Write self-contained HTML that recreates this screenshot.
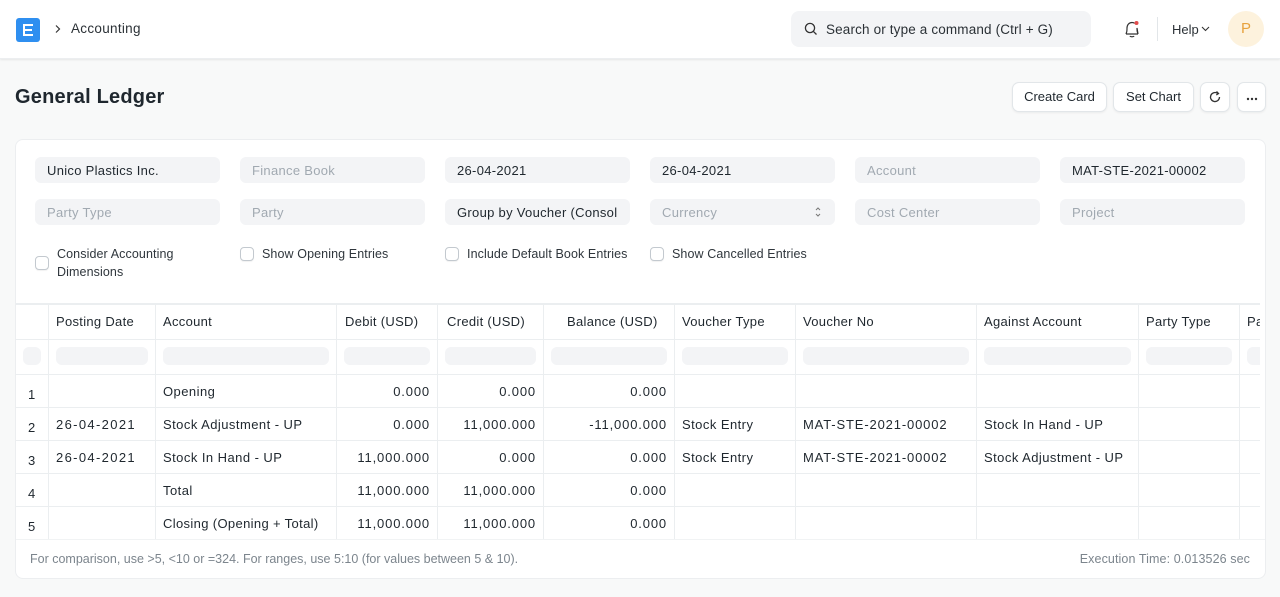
<!DOCTYPE html>
<html><head><meta charset="utf-8">
<style>
*{box-sizing:border-box;margin:0;padding:0}
body{width:1280px;height:597px;background:#f8f9f9;font-family:"Liberation Sans",sans-serif;color:#1f272e;position:relative;overflow:hidden;font-size:13px}
.abs{position:absolute}
.nav{left:0;top:0;width:1280px;height:59px;background:#fff;box-shadow:0 1px 2px rgba(0,0,0,0.08);border-bottom:1px solid #eceef0}
.logo{left:16px;top:18px;width:24px;height:24px;background:#2f8ff0;border-radius:3px}
.search{left:791px;top:11px;width:300px;height:36px;background:#f3f4f6;border-radius:8px}
.btn{top:82px;height:30px;background:#fff;border:1px solid #e2e6e9;border-radius:7px;box-shadow:0 1px 2px rgba(0,0,0,0.06);font-size:13px;line-height:28px;text-align:center;color:#1f272e}
.card{left:15px;top:139px;width:1251px;height:440px;background:#fff;border:1px solid #eceef0;border-radius:8px;overflow:hidden}
.f{width:185px;height:26px;background:#f3f4f6;border-radius:6px;font-size:13px;line-height:28px;padding-left:12px;color:#1f272e;white-space:nowrap;overflow:hidden;letter-spacing:0.3px}
.ph{color:#a1a9b1}
.cb{width:14px;height:14px;border:1px solid #c3c9cf;border-radius:4px;background:#fff;box-shadow:0 1px 1px rgba(0,0,0,0.06)}
.cl{font-size:12.5px;color:#2f363c;line-height:18px;letter-spacing:0.1px}
.hl{background:#ebeef0}
.t{font-size:13px;line-height:16px;white-space:nowrap;margin-top:1px;letter-spacing:0.45px}
.h{letter-spacing:0.3px}
.n{letter-spacing:0.85px}
.d{letter-spacing:1.35px}
.m{letter-spacing:0.85px}
.r{text-align:right}
.fl{height:18px;background:#f3f4f6;border-radius:6px}
</style></head><body>
<div class="abs nav"></div>
<div class="abs logo"><div class="abs" style="left:7px;top:6px;width:10px;height:2px;background:#fff"></div><div class="abs" style="left:7px;top:11px;width:9px;height:2px;background:#fff"></div><div class="abs" style="left:7px;top:16px;width:10px;height:2px;background:#fff"></div><div class="abs" style="left:7px;top:6px;width:2px;height:5px;background:#fff"></div><div class="abs" style="left:7px;top:13px;width:2px;height:5px;background:#fff"></div></div>
<svg class="abs" style="left:54px;top:24px" width="8" height="10"><path d="M2 1.5 L5.5 5 L2 8.5" fill="none" stroke="#333" stroke-width="1.2"/></svg>
<div class="abs t h" style="left:71px;top:20px;font-size:13.5px;color:#2b3136">Accounting</div>
<div class="abs search"></div>
<svg class="abs" style="left:804px;top:22px" width="14" height="14"><circle cx="6" cy="6" r="4.6" fill="none" stroke="#333" stroke-width="1.3"/><path d="M9.4 9.4 L12.5 12.5" stroke="#333" stroke-width="1.3"/></svg>
<div class="abs t" style="left:826px;top:21px;font-size:13.5px;color:#2b3136;letter-spacing:0.15px">Search or type a command (Ctrl + G)</div>
<svg class="abs" style="left:1122px;top:19px" width="20" height="20"><path d="M4 15 L4.5 13.5 C5 12.5 5 11 5 9 C5 6 7 3.5 10 3.5 C11 3.5 12 3.8 12.5 4.3 M15 9 C15 11 15 12.5 15.5 13.5 L16 15 Z M4 15 L16 15 M8 17 C8.5 18 11.5 18 12 17" fill="none" stroke="#333" stroke-width="1.2"/><circle cx="14.5" cy="4" r="2" fill="#e24c4c"/></svg>
<div class="abs" style="left:1157px;top:17px;width:1px;height:24px;background:#e2e6e9"></div>
<div class="abs t" style="left:1172px;top:21px;font-size:13px;color:#2b3136;letter-spacing:0">Help</div>
<svg class="abs" style="left:1201px;top:26px" width="9" height="6"><path d="M1 1 L4.5 4.5 L8 1" fill="none" stroke="#333" stroke-width="1.1"/></svg>
<div class="abs" style="left:1228px;top:11px;width:36px;height:36px;border-radius:50%;background:#fdf2dd;color:#e7a23d;font-size:15px;line-height:36px;text-align:center">P</div>

<div class="abs" style="left:15px;top:85px;font-size:20px;font-weight:bold;color:#1f272e;line-height:24px;letter-spacing:0.2px">General Ledger</div>
<div class="abs btn" style="left:1012px;width:95px">Create Card</div>
<div class="abs btn" style="left:1113px;width:81px">Set Chart</div>
<div class="abs btn" style="left:1200px;width:30px"><svg style="margin-top:7px" width="14" height="14"><path d="M11.5 7 A4.5 4.5 0 1 1 9.5 3.3" fill="none" stroke="#333" stroke-width="1.3"/><path d="M8.5 1.5 L10.5 3.5 L8.3 5" fill="none" stroke="#333" stroke-width="1.3"/></svg></div>
<div class="abs btn" style="left:1237px;width:29px"><svg style="margin-top:12px" width="12" height="4"><circle cx="2" cy="2" r="1.2" fill="#333"/><circle cx="6" cy="2" r="1.2" fill="#333"/><circle cx="10" cy="2" r="1.2" fill="#333"/></svg></div>

<div class="abs card"></div>
<div class="abs f" style="left:35px;top:157px">Unico Plastics Inc.</div>
<div class="abs f ph" style="left:240px;top:157px">Finance Book</div>
<div class="abs f" style="left:445px;top:157px">26-04-2021</div>
<div class="abs f" style="left:650px;top:157px">26-04-2021</div>
<div class="abs f ph" style="left:855px;top:157px">Account</div>
<div class="abs f" style="left:1060px;top:157px">MAT-STE-2021-00002</div>
<div class="abs f ph" style="left:35px;top:199px">Party Type</div>
<div class="abs f ph" style="left:240px;top:199px">Party</div>
<div class="abs f" style="left:445px;top:199px">Group by Voucher (Consol</div>
<div class="abs f ph" style="left:650px;top:199px">Currency</div>
<svg class="abs" style="left:814px;top:205px" width="8" height="14"><path d="M2 5 L4 3 L6 5 M2 9 L4 11 L6 9" fill="none" stroke="#777" stroke-width="1"/></svg>
<div class="abs f ph" style="left:855px;top:199px">Cost Center</div>
<div class="abs f ph" style="left:1060px;top:199px">Project</div>

<div class="abs cb" style="left:35px;top:256px"></div>
<div class="abs cl" style="left:57px;top:245px">Consider Accounting<br>Dimensions</div>
<div class="abs cb" style="left:240px;top:247px"></div>
<div class="abs cl" style="left:262px;top:245px">Show Opening Entries</div>
<div class="abs cb" style="left:445px;top:247px"></div>
<div class="abs cl" style="left:467px;top:245px">Include Default Book Entries</div>
<div class="abs cb" style="left:650px;top:247px"></div>
<div class="abs cl" style="left:672px;top:245px">Show Cancelled Entries</div>

<!-- table lines -->
<div class="abs hl" style="left:16px;top:303px;width:1244px;height:2px"></div>
<div class="abs hl" style="left:16px;top:339px;width:1244px;height:1px"></div>
<div class="abs hl" style="left:16px;top:374px;width:1244px;height:1px"></div>
<div class="abs hl" style="left:16px;top:407px;width:1244px;height:1px"></div>
<div class="abs hl" style="left:16px;top:440px;width:1244px;height:1px"></div>
<div class="abs hl" style="left:16px;top:473px;width:1244px;height:1px"></div>
<div class="abs hl" style="left:16px;top:506px;width:1244px;height:1px"></div>
<div class="abs hl" style="left:16px;top:539px;width:1249px;height:1px;background:#f1f3f4"></div>
<div class="abs hl" style="left:48px;top:305px;width:1px;height:234px"></div>
<div class="abs hl" style="left:155px;top:305px;width:1px;height:234px"></div>
<div class="abs hl" style="left:336px;top:305px;width:1px;height:234px"></div>
<div class="abs hl" style="left:437px;top:305px;width:1px;height:234px"></div>
<div class="abs hl" style="left:543px;top:305px;width:1px;height:234px"></div>
<div class="abs hl" style="left:674px;top:305px;width:1px;height:234px"></div>
<div class="abs hl" style="left:795px;top:305px;width:1px;height:234px"></div>
<div class="abs hl" style="left:976px;top:305px;width:1px;height:234px"></div>
<div class="abs hl" style="left:1138px;top:305px;width:1px;height:234px"></div>
<div class="abs hl" style="left:1239px;top:305px;width:1px;height:234px"></div>

<!-- header -->
<div class="abs t h" style="left:56px;top:313px">Posting Date</div>
<div class="abs t h" style="left:163px;top:313px">Account</div>
<div class="abs t h" style="left:345px;top:313px">Debit (USD)</div>
<div class="abs t h" style="left:447px;top:313px">Credit (USD)</div>
<div class="abs t h" style="left:567px;top:313px">Balance (USD)</div>
<div class="abs t h" style="left:682px;top:313px">Voucher Type</div>
<div class="abs t h" style="left:803px;top:313px">Voucher No</div>
<div class="abs t h" style="left:984px;top:313px">Against Account</div>
<div class="abs t h" style="left:1146px;top:313px">Party Type</div>
<div class="abs t h" style="left:1247px;top:313px;width:13px;overflow:hidden">Party</div>

<!-- filter row -->
<div class="abs fl" style="left:23px;top:347px;width:18px"></div>
<div class="abs fl" style="left:56px;top:347px;width:92px"></div>
<div class="abs fl" style="left:163px;top:347px;width:166px"></div>
<div class="abs fl" style="left:344px;top:347px;width:86px"></div>
<div class="abs fl" style="left:445px;top:347px;width:91px"></div>
<div class="abs fl" style="left:551px;top:347px;width:116px"></div>
<div class="abs fl" style="left:682px;top:347px;width:106px"></div>
<div class="abs fl" style="left:803px;top:347px;width:166px"></div>
<div class="abs fl" style="left:984px;top:347px;width:147px"></div>
<div class="abs fl" style="left:1146px;top:347px;width:86px"></div>
<div class="abs fl" style="left:1247px;top:347px;width:13px;border-radius:6px 0 0 6px"></div>

<!-- rows -->
<div class="abs t" style="left:28px;top:386px">1</div>
<div class="abs t" style="left:163px;top:383px">Opening</div>
<div class="abs t r n" style="left:337px;top:383px;width:93px">0.000</div>
<div class="abs t r n" style="left:438px;top:383px;width:98px">0.000</div>
<div class="abs t r n" style="left:544px;top:383px;width:123px">0.000</div>

<div class="abs t" style="left:28px;top:419px">2</div>
<div class="abs t d" style="left:56px;top:416px">26-04-2021</div>
<div class="abs t" style="left:163px;top:416px">Stock Adjustment - UP</div>
<div class="abs t r n" style="left:337px;top:416px;width:93px">0.000</div>
<div class="abs t r n" style="left:438px;top:416px;width:98px">11,000.000</div>
<div class="abs t r n" style="left:544px;top:416px;width:123px">-11,000.000</div>
<div class="abs t" style="left:682px;top:416px">Stock Entry</div>
<div class="abs t m" style="left:803px;top:416px">MAT-STE-2021-00002</div>
<div class="abs t" style="left:984px;top:416px">Stock In Hand - UP</div>

<div class="abs t" style="left:28px;top:452px">3</div>
<div class="abs t d" style="left:56px;top:449px">26-04-2021</div>
<div class="abs t" style="left:163px;top:449px">Stock In Hand - UP</div>
<div class="abs t r n" style="left:337px;top:449px;width:93px">11,000.000</div>
<div class="abs t r n" style="left:438px;top:449px;width:98px">0.000</div>
<div class="abs t r n" style="left:544px;top:449px;width:123px">0.000</div>
<div class="abs t" style="left:682px;top:449px">Stock Entry</div>
<div class="abs t m" style="left:803px;top:449px">MAT-STE-2021-00002</div>
<div class="abs t" style="left:984px;top:449px">Stock Adjustment - UP</div>

<div class="abs t" style="left:28px;top:485px">4</div>
<div class="abs t" style="left:163px;top:482px">Total</div>
<div class="abs t r n" style="left:337px;top:482px;width:93px">11,000.000</div>
<div class="abs t r n" style="left:438px;top:482px;width:98px">11,000.000</div>
<div class="abs t r n" style="left:544px;top:482px;width:123px">0.000</div>

<div class="abs t" style="left:28px;top:518px">5</div>
<div class="abs t" style="left:163px;top:515px;letter-spacing:0.35px">Closing (Opening + Total)</div>
<div class="abs t r n" style="left:337px;top:515px;width:93px">11,000.000</div>
<div class="abs t r n" style="left:438px;top:515px;width:98px">11,000.000</div>
<div class="abs t r n" style="left:544px;top:515px;width:123px">0.000</div>

<div class="abs t" style="left:30px;top:550px;font-size:12.5px;color:#7c858d;letter-spacing:0px">For comparison, use &gt;5, &lt;10 or =324. For ranges, use 5:10 (for values between 5 &amp; 10).</div>
<div class="abs t r" style="left:950px;top:550px;width:300px;font-size:12.5px;color:#7c858d;letter-spacing:0.1px">Execution Time: 0.013526 sec</div>
</body></html>
